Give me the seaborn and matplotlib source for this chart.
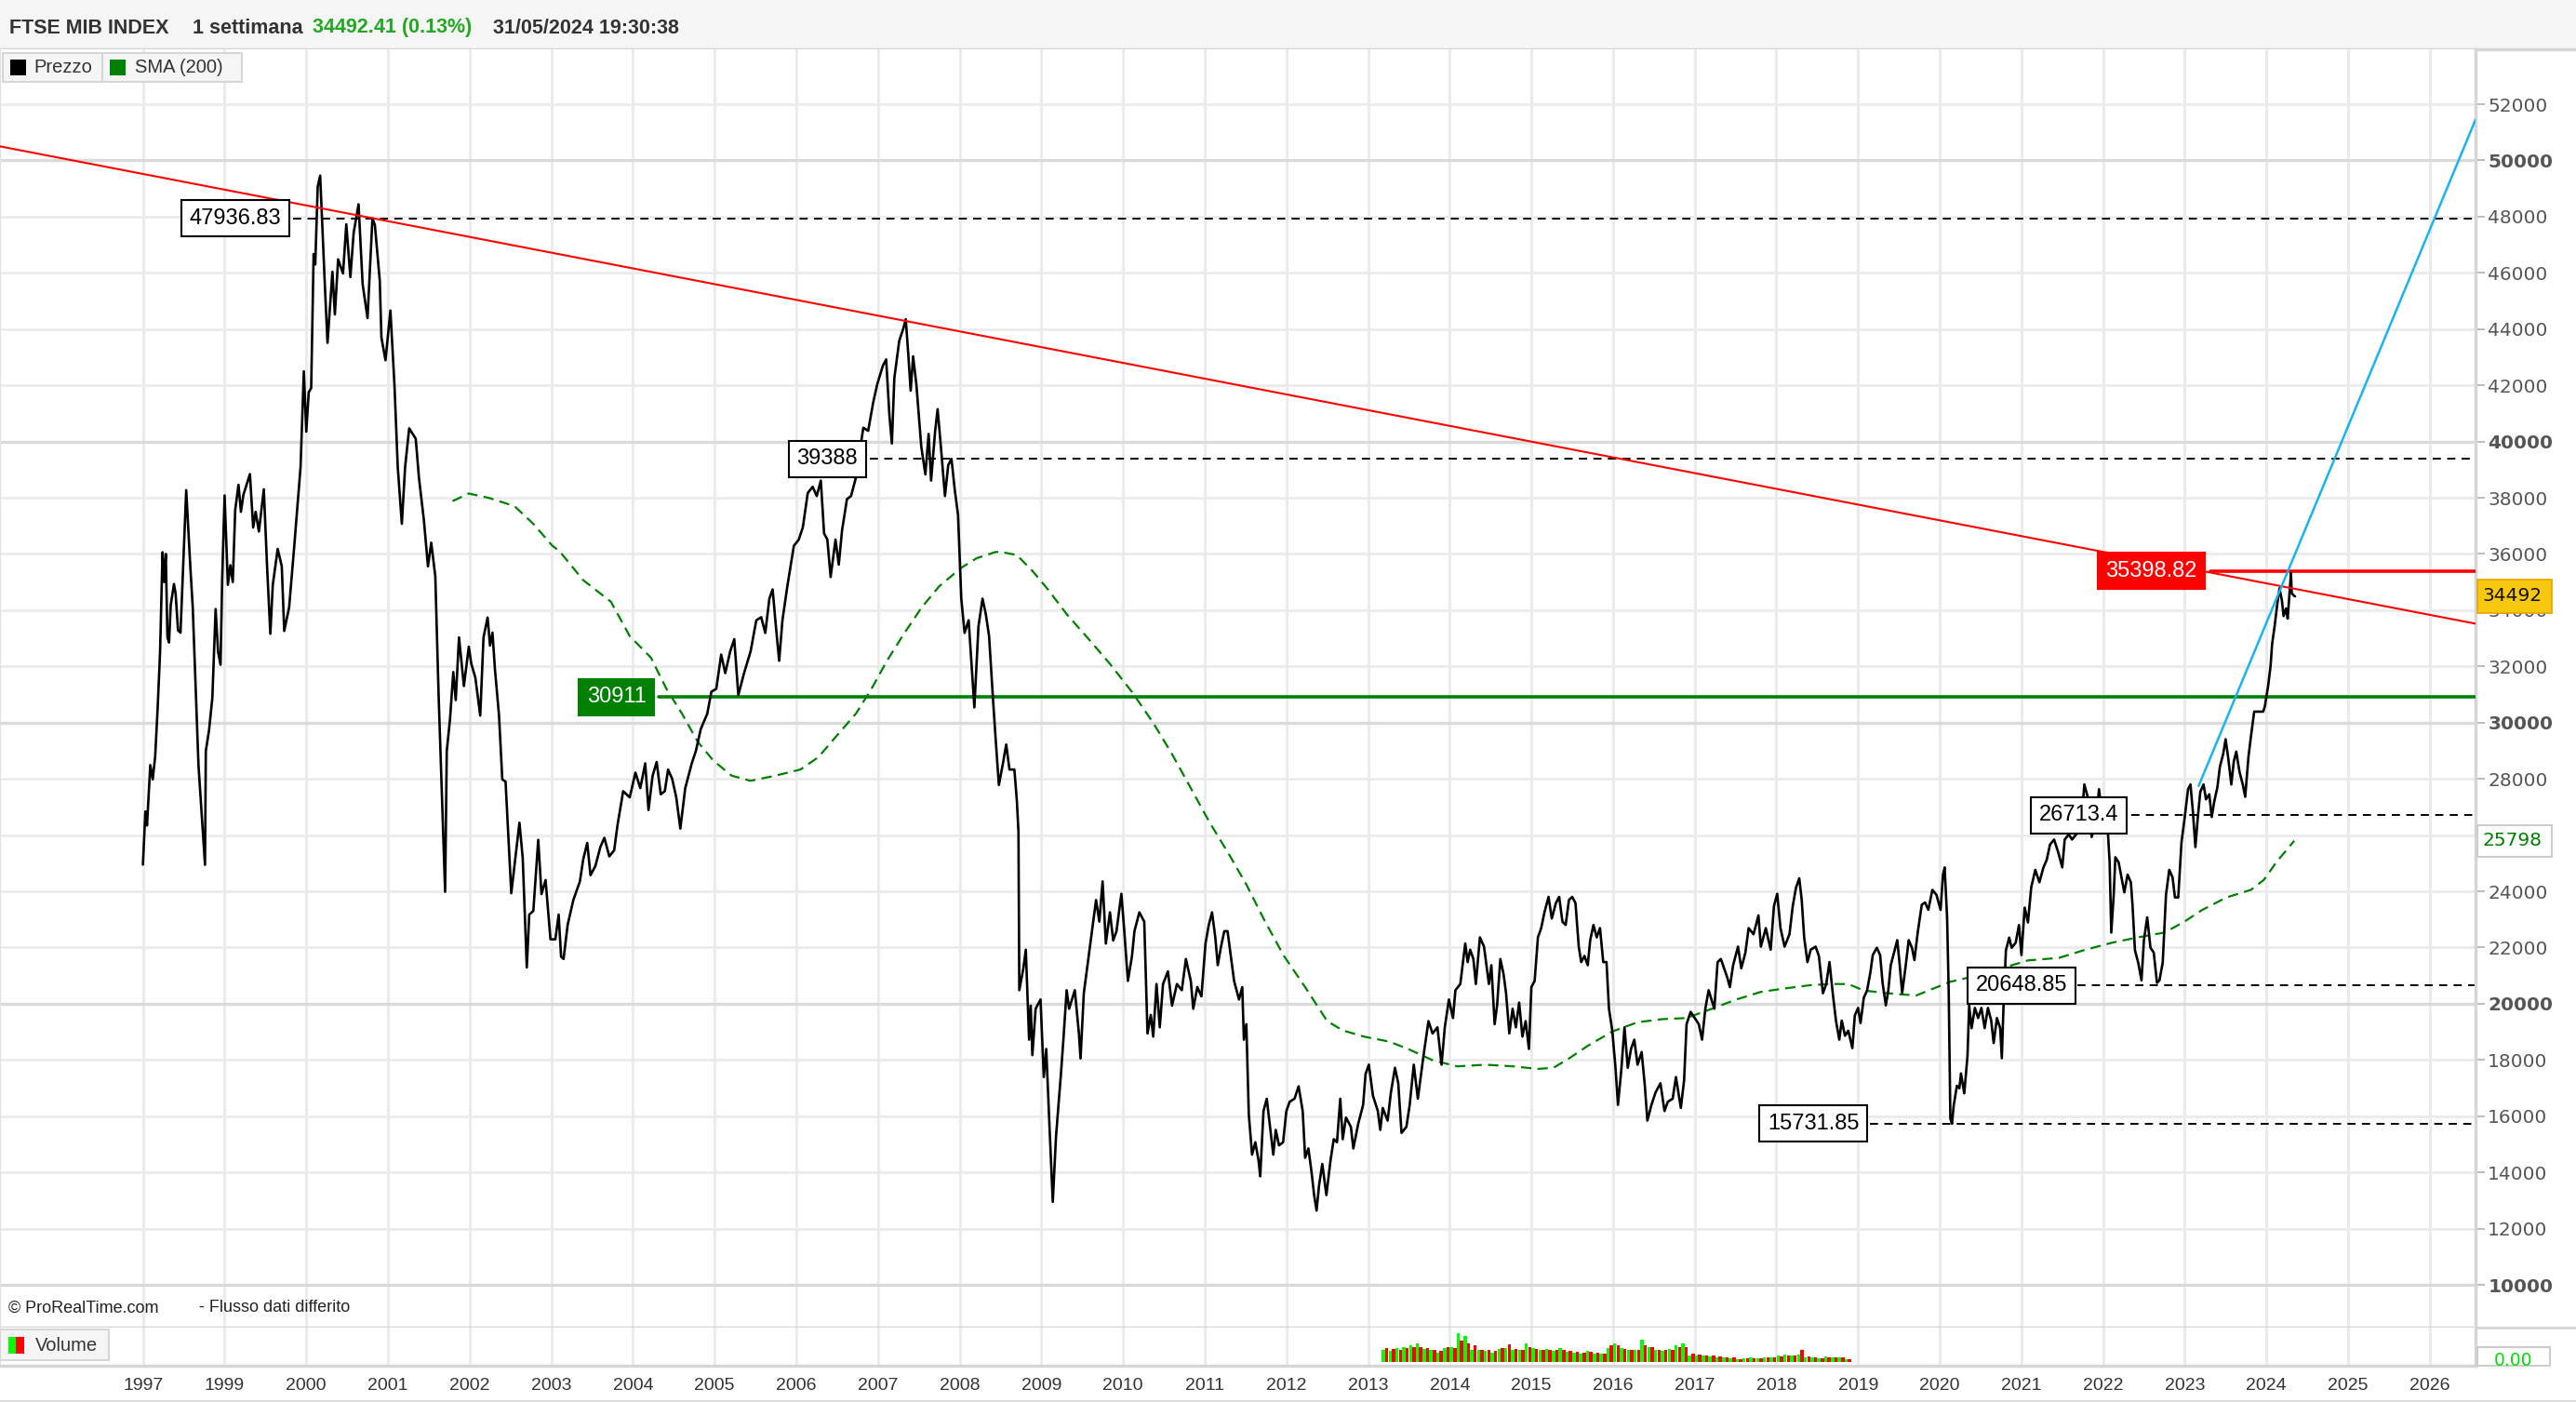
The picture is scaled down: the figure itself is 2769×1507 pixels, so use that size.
import numpy as np
import pandas as pd
import matplotlib
matplotlib.use("Agg")
import matplotlib.pyplot as plt
from matplotlib.patches import Rectangle
from matplotlib.lines import Line2D
import seaborn as sns

# ------------------------------------------------------------------ data
# weekly closes (decimal year, index level)
price_1998_2003 = [
    (1998.00, 24950), (1998.03, 26840), (1998.05, 26340), (1998.09, 28490), (1998.12, 27980),
    (1998.15, 28800), (1998.18, 30500), (1998.21, 32520), (1998.24, 36060), (1998.26, 35000),
    (1998.28, 36000), (1998.30, 33030), (1998.32, 32850), (1998.34, 34170), (1998.38, 34930),
    (1998.40, 34600), (1998.43, 33280), (1998.46, 33200), (1998.53, 38270), (1998.58, 35560),
    (1998.61, 34100), (1998.68, 28490), (1998.76, 24940), (1998.77, 28990), (1998.81, 29740),
    (1998.85, 30880), (1998.89, 34040), (1998.92, 32520), (1998.95, 32060), (1998.97, 35060),
    (1999.00, 38080), (1999.04, 34900), (1999.07, 35600), (1999.10, 35000), (1999.13, 37570),
    (1999.17, 38460), (1999.20, 37500), (1999.23, 38100), (1999.31, 38840), (1999.35, 36940),
    (1999.38, 37500), (1999.42, 36800), (1999.48, 38300), (1999.52, 35560), (1999.56, 33160),
    (1999.59, 34900), (1999.65, 36180), (1999.70, 35560), (1999.73, 33260), (1999.79, 34100),
    (1999.85, 36180), (1999.93, 39090), (1999.97, 42500), (2000.00, 40350), (2000.03, 41750),
    (2000.06, 41900), (2000.09, 46670), (2000.11, 46300), (2000.14, 49070), (2000.17, 49460),
    (2000.23, 45400), (2000.26, 43510), (2000.32, 46040), (2000.35, 44520), (2000.39, 46480),
    (2000.45, 45980), (2000.49, 47730), (2000.54, 45850), (2000.58, 47420), (2000.64, 48440),
    (2000.69, 45600), (2000.75, 44390), (2000.81, 47940), (2000.84, 47700), (2000.90, 45720),
    (2000.92, 43700), (2000.97, 42890), (2001.03, 44660), (2001.08, 42000), (2001.12, 39090),
    (2001.17, 37070), (2001.21, 39090), (2001.26, 40470), (2001.34, 40100), (2001.38, 38700),
    (2001.44, 37200), (2001.49, 35560), (2001.53, 36400), (2001.58, 35200), (2001.62, 31000),
    (2001.70, 23980), (2001.72, 28990), (2001.76, 30120), (2001.80, 31800), (2001.83, 30800),
    (2001.87, 33030), (2001.93, 31300), (2001.99, 32700), (2002.02, 32100), (2002.07, 31600),
    (2002.13, 30250), (2002.17, 33030), (2002.22, 33740), (2002.25, 32740), (2002.28, 33200),
    (2002.31, 31900), (2002.36, 30250), (2002.40, 27980), (2002.44, 27900), (2002.47, 26210),
    (2002.51, 23930), (2002.57, 25450), (2002.61, 26440), (2002.65, 25190), (2002.70, 21290),
    (2002.73, 23170), (2002.78, 23300), (2002.84, 25830), (2002.88, 23900), (2002.93, 24400),
    (2002.99, 22290), (2003.05, 22290), (2003.09, 23170), (2003.12, 21670),
]
price_2003_2008 = [
    (2003.15, 21590), (2003.20, 22800), (2003.27, 23690), (2003.35, 24350), (2003.39, 25120),
    (2003.44, 25720), (2003.48, 24570), (2003.54, 24900), (2003.60, 25570), (2003.65, 25900),
    (2003.71, 25240), (2003.77, 25460), (2003.81, 26340), (2003.88, 27560), (2003.96, 27340),
    (2004.03, 28220), (2004.09, 27670), (2004.15, 28550), (2004.19, 26890), (2004.24, 28100),
    (2004.29, 28600), (2004.34, 27450), (2004.39, 27560), (2004.43, 28330), (2004.48, 28000),
    (2004.53, 27340), (2004.58, 26230), (2004.64, 27670), (2004.72, 28550), (2004.77, 28990),
    (2004.83, 29770), (2004.91, 30320), (2004.96, 31100), (2005.02, 31200), (2005.08, 32420),
    (2005.13, 31760), (2005.19, 32530), (2005.24, 32970), (2005.29, 30980), (2005.36, 31760),
    (2005.44, 32530), (2005.51, 33640), (2005.57, 33750), (2005.62, 33190), (2005.67, 34410),
    (2005.71, 34740), (2005.75, 33420), (2005.79, 32200), (2005.83, 33640), (2005.89, 34850),
    (2005.97, 36290), (2006.03, 36510), (2006.08, 36950), (2006.14, 38170), (2006.20, 38390),
    (2006.25, 38060), (2006.30, 38610), (2006.34, 36730), (2006.38, 36510), (2006.42, 35180),
    (2006.48, 36510), (2006.52, 35620), (2006.56, 36840), (2006.62, 37950), (2006.67, 38060),
    (2006.73, 38720), (2006.82, 40490), (2006.88, 40380), (2006.94, 41370), (2006.99, 42030),
    (2007.06, 42700), (2007.10, 42920), (2007.14, 40930), (2007.17, 39930), (2007.20, 42250),
    (2007.26, 43580), (2007.31, 44020), (2007.34, 44350), (2007.37, 43140), (2007.40, 41810),
    (2007.43, 43030), (2007.47, 42030), (2007.53, 39820), (2007.58, 38830), (2007.62, 40270),
    (2007.65, 38610), (2007.70, 40380), (2007.73, 41150), (2007.77, 39820), (2007.82, 38060),
    (2007.86, 39160), (2007.90, 39380), (2007.94, 38280), (2007.98, 37390), (2008.02, 34410),
    (2008.06, 33190), (2008.11, 33640), (2008.18, 30540), (2008.23, 33420), (2008.28, 34410),
    (2008.32, 33860), (2008.36, 33080), (2008.41, 30760),
]
price_2008_2013 = [
    (2008.44, 29440), (2008.48, 27780), (2008.53, 28550), (2008.57, 29220), (2008.61, 28330),
    (2008.67, 28330), (2008.70, 27230), (2008.72, 26120), (2008.73, 20480), (2008.78, 21260),
    (2008.81, 21920), (2008.85, 18720), (2008.87, 19930), (2008.89, 18170), (2008.93, 19820),
    (2008.99, 20150), (2009.03, 17390), (2009.06, 18390), (2009.10, 15620), (2009.14, 12950),
    (2009.18, 15290), (2009.24, 17500), (2009.27, 18720), (2009.31, 20480), (2009.34, 19820),
    (2009.41, 20480), (2009.46, 18940), (2009.48, 18050), (2009.52, 20370), (2009.58, 21700),
    (2009.62, 22580), (2009.67, 23690), (2009.71, 22920), (2009.75, 24350), (2009.79, 22140),
    (2009.84, 23250), (2009.88, 22250), (2009.92, 22580), (2009.98, 23910), (2010.01, 22800),
    (2010.06, 20810), (2010.11, 21700), (2010.14, 22580), (2010.20, 23250), (2010.26, 22920),
    (2010.30, 18940), (2010.34, 19600), (2010.37, 18830), (2010.41, 20700), (2010.45, 19160),
    (2010.49, 20700), (2010.55, 21150), (2010.60, 19930), (2010.66, 20700), (2010.72, 20480),
    (2010.77, 21590), (2010.83, 20810), (2010.86, 19820), (2010.91, 20590), (2010.96, 20260),
    (2011.01, 22140), (2011.05, 22800), (2011.09, 23250), (2011.13, 22360), (2011.16, 21370),
    (2011.20, 22030), (2011.24, 22580), (2011.28, 22580), (2011.32, 21700), (2011.36, 20810),
    (2011.42, 20150), (2011.46, 20590), (2011.48, 18720), (2011.51, 19270), (2011.54, 16070),
    (2011.58, 14630), (2011.62, 15070), (2011.66, 14410), (2011.68, 13860), (2011.72, 16180),
    (2011.76, 16620), (2011.80, 15620), (2011.84, 14630), (2011.87, 15510), (2011.91, 14960),
    (2011.96, 15070), (2012.00, 16180), (2012.04, 16510), (2012.10, 16620), (2012.15, 17060),
    (2012.20, 16180), (2012.23, 14520), (2012.27, 14850), (2012.31, 13970), (2012.34, 13190),
    (2012.37, 12640), (2012.40, 13530), (2012.44, 14300), (2012.49, 13190), (2012.54, 14410),
    (2012.58, 15180), (2012.62, 15070), (2012.66, 16620), (2012.69, 15180), (2012.73, 15950),
    (2012.79, 15620), (2012.82, 14850), (2012.88, 15730), (2012.94, 16400), (2012.97, 17500),
    (2013.01, 17830), (2013.06, 16730), (2013.12, 16180), (2013.15, 15510), (2013.18, 16290),
    (2013.24, 15840), (2013.28, 16840), (2013.33, 17720), (2013.37, 17170), (2013.41, 15400),
    (2013.47, 15620), (2013.51, 16400),
]
price_2013_2018 = [
    (2013.56, 17830), (2013.61, 16620), (2013.68, 18170), (2013.74, 19380), (2013.79, 18940),
    (2013.85, 19160), (2013.90, 17830), (2013.94, 19160), (2013.99, 20150), (2014.04, 19490),
    (2014.07, 20480), (2014.13, 20700), (2014.19, 22140), (2014.22, 21480), (2014.25, 21920),
    (2014.29, 21590), (2014.32, 20700), (2014.37, 22360), (2014.42, 22030), (2014.45, 21370),
    (2014.48, 20700), (2014.51, 21370), (2014.55, 19270), (2014.58, 19930), (2014.62, 21590),
    (2014.66, 21040), (2014.69, 20370), (2014.73, 18940), (2014.77, 19820), (2014.81, 19160),
    (2014.85, 20040), (2014.89, 18830), (2014.93, 19380), (2014.97, 18390), (2015.00, 20590),
    (2015.04, 20810), (2015.08, 22360), (2015.12, 22690), (2015.16, 23250), (2015.21, 23800),
    (2015.25, 23030), (2015.30, 23580), (2015.34, 23800), (2015.38, 22920), (2015.42, 22800),
    (2015.46, 23690), (2015.50, 23800), (2015.54, 23580), (2015.58, 22030), (2015.61, 21480),
    (2015.65, 21700), (2015.69, 21370), (2015.72, 22250), (2015.76, 22800), (2015.80, 22360),
    (2015.84, 22690), (2015.88, 21480), (2015.92, 21480), (2015.95, 19820), (2015.99, 19050),
    (2016.03, 17720), (2016.06, 16400), (2016.10, 17610), (2016.14, 19160), (2016.18, 17720),
    (2016.22, 18390), (2016.26, 18720), (2016.30, 17830), (2016.35, 18280), (2016.39, 17060),
    (2016.42, 15840), (2016.47, 16400), (2016.52, 16840), (2016.58, 17170), (2016.63, 16180),
    (2016.67, 16510), (2016.73, 16620), (2016.77, 17390), (2016.83, 16290), (2016.87, 17280),
    (2016.90, 19270), (2016.95, 19710), (2017.00, 19490), (2017.05, 19270), (2017.09, 18720),
    (2017.13, 19820), (2017.17, 20480), (2017.24, 19820), (2017.28, 21480), (2017.32, 21590),
    (2017.36, 21260), (2017.40, 20920), (2017.43, 20590), (2017.47, 21370), (2017.53, 22030),
    (2017.57, 21260), (2017.62, 21810), (2017.66, 22690), (2017.72, 22470), (2017.78, 23140),
    (2017.81, 22030), (2017.87, 22690), (2017.93, 21920), (2017.97, 23470), (2018.01, 23910),
    (2018.05, 22690), (2018.10, 22030), (2018.16, 22470), (2018.20, 23470), (2018.24, 24130),
    (2018.28, 24460), (2018.31, 23690), (2018.34, 22360), (2018.38, 21480), (2018.42, 21920),
    (2018.48, 22030), (2018.52, 21700), (2018.57, 20370), (2018.61, 20700), (2018.65, 21480),
    (2018.69, 20370), (2018.73, 19380), (2018.77, 18720),
]
price_2018_2024 = [
    (2018.80, 19400), (2018.84, 18860), (2018.88, 19040), (2018.93, 18420), (2018.96, 19580),
    (2019.00, 19850), (2019.03, 19310), (2019.07, 20210), (2019.11, 20470), (2019.15, 21100),
    (2019.18, 21730), (2019.23, 21990), (2019.27, 21730), (2019.30, 20740), (2019.34, 19940),
    (2019.37, 20470), (2019.40, 21370), (2019.44, 21820), (2019.48, 22260), (2019.51, 21370),
    (2019.54, 20380), (2019.58, 21280), (2019.62, 22260), (2019.66, 21990), (2019.69, 21550),
    (2019.73, 22530), (2019.78, 23520), (2019.82, 23600), (2019.86, 23340), (2019.91, 24050),
    (2019.96, 23870), (2020.01, 23340), (2020.04, 24590), (2020.06, 24850), (2020.09, 23070),
    (2020.11, 20380), (2020.13, 15910), (2020.15, 15730), (2020.17, 16360), (2020.21, 17080),
    (2020.24, 16990), (2020.26, 17520), (2020.30, 16810), (2020.34, 18150), (2020.36, 19940),
    (2020.39, 19130), (2020.43, 19850), (2020.47, 19490), (2020.51, 19850), (2020.55, 19130),
    (2020.59, 19850), (2020.63, 19400), (2020.66, 18600), (2020.70, 19490), (2020.74, 19130),
    (2020.76, 18060), (2020.78, 19850), (2020.81, 21900), (2020.85, 22350), (2020.88, 21990),
    (2020.93, 22170), (2020.97, 22800), (2021.00, 21730), (2021.04, 23420), (2021.08, 22890),
    (2021.12, 24140), (2021.17, 24760), (2021.22, 24320), (2021.27, 24850), (2021.31, 25120),
    (2021.35, 25660), (2021.40, 25840), (2021.45, 25390), (2021.50, 24850), (2021.53, 25840),
    (2021.58, 26020), (2021.62, 25840), (2021.67, 26020), (2021.71, 26640), (2021.75, 27000),
    (2021.77, 27800), (2021.82, 27270), (2021.86, 25930), (2021.91, 26460), (2021.95, 27630),
    (2021.99, 26640), (2022.05, 26550), (2022.08, 25030), (2022.10, 22530), (2022.13, 23870),
    (2022.15, 25210), (2022.19, 25030), (2022.23, 24410), (2022.26, 23960), (2022.30, 24590),
    (2022.34, 24320), (2022.36, 23520), (2022.39, 21900), (2022.43, 21460), (2022.47, 20830),
    (2022.50, 22260), (2022.54, 23070), (2022.58, 21990), (2022.62, 21820), (2022.66, 20740),
    (2022.69, 20830), (2022.73, 21460), (2022.77, 23870), (2022.81, 24760), (2022.85, 24500),
    (2022.88, 23780), (2022.92, 23780), (2022.96, 25750), (2023.00, 26640), (2023.04, 27630),
    (2023.07, 27800), (2023.10, 26820), (2023.13, 25570), (2023.16, 26640), (2023.19, 27540),
    (2023.23, 27800), (2023.26, 27270), (2023.30, 27450), (2023.33, 26640), (2023.36, 27180),
    (2023.40, 27710), (2023.43, 28430), (2023.47, 28880), (2023.50, 29410), (2023.53, 28790),
    (2023.57, 27800), (2023.60, 28610), (2023.63, 28970), (2023.67, 28250), (2023.71, 27800),
    (2023.74, 27360), (2023.78, 28790), (2023.81, 29500), (2023.85, 30390), (2023.91, 30390),
    (2023.96, 30390), (2023.98, 30570), (2024.02, 31290), (2024.05, 32000), (2024.07, 32810),
    (2024.10, 33430), (2024.13, 34150), (2024.16, 34780), (2024.19, 34330), (2024.21, 33790),
    (2024.24, 34060), (2024.26, 33700), (2024.28, 34510), (2024.30, 35310), (2024.31, 34600),
    (2024.34, 34510), (2024.35, 34492),
]
# 200-period simple moving average
sma_200 = [
    (2001.79, 37880), (2001.99, 38150), (2002.24, 37990), (2002.55, 37700), (2002.78, 37070),
    (2003.01, 36300), (2003.10, 36100), (2003.39, 35070), (2003.73, 34300), (2003.96, 33080),
    (2004.22, 32310), (2004.41, 31200), (2004.60, 30320), (2004.79, 29330), (2004.98, 28660),
    (2005.21, 28110), (2005.44, 27930), (2005.74, 28110), (2006.05, 28330), (2006.27, 28770),
    (2006.50, 29550), (2006.73, 30320), (2006.92, 31200), (2007.11, 32200), (2007.30, 33080),
    (2007.53, 34080), (2007.75, 34850), (2008.02, 35510), (2008.21, 35850), (2008.44, 36070),
    (2008.51, 36070), (2008.70, 35960), (2008.89, 35400), (2009.08, 34740), (2009.31, 33860),
    (2009.58, 32970), (2009.84, 32090), (2010.11, 31090), (2010.37, 29990), (2010.60, 28880),
    (2010.83, 27670), (2011.06, 26450), (2011.29, 25350), (2011.51, 24240), (2011.74, 22920),
    (2011.97, 21700), (2012.23, 20590), (2012.50, 19380), (2012.69, 19050), (2012.95, 18830),
    (2013.26, 18650), (2013.49, 18390), (2013.79, 17990), (2014.09, 17770), (2014.44, 17830),
    (2014.78, 17770), (2015.08, 17680), (2015.27, 17720), (2015.46, 18050), (2015.69, 18500),
    (2015.99, 19010), (2016.30, 19340), (2016.60, 19450), (2016.90, 19490), (2017.21, 19820),
    (2017.51, 20150), (2017.81, 20420), (2018.12, 20550), (2018.42, 20660), (2018.65, 20700),
    (2018.88, 20700), (2019.07, 20470), (2019.33, 20380), (2019.71, 20290), (2019.94, 20560),
    (2020.13, 20780), (2020.47, 21010), (2020.78, 21280), (2021.08, 21540), (2021.46, 21630),
    (2021.76, 21900), (2022.11, 22170), (2022.41, 22350), (2022.75, 22530), (2022.98, 22890),
    (2023.21, 23330), (2023.51, 23780), (2023.81, 24050), (2023.97, 24410), (2024.12, 25030),
    (2024.29, 25620), (2024.34, 25798),
]
last_price_tag = "34492"
last_price = 34492.41
last_sma_tag = "25798"
last_sma = 25798

# horizontal levels drawn by the analyst
level_values = [47936.83, 39388, 30911, 35398.82, 26713.4, 20648.85, 15731.85]
level_labels = ["47936.83", "39388", "30911", "35398.82", "26713.4", "20648.85", "15731.85"]
level_kinds = ["dash", "dash", "green", "red", "dash", "dash", "dash"]
level_start = [1999.84, 2006.90, 2004.31, 2023.31, 2022.34, 2021.69, 2019.15]

# trend lines (two anchor points each)
red_trend_t = [1996.25, 2026.56]
red_trend_v = [50500, 33520]
blue_trend_t = [2023.17, 2026.56]
blue_trend_v = [27750, 51450]

# volume (monthly, green = up, red = down), relative units
vol_months = pd.date_range("2013-03-01", periods=69, freq="MS")
vol_green = [40, 35, 45, 50, 55, 62, 42, 38, 30,
             45, 50, 94, 85, 40, 38, 36, 30, 42, 45, 40, 38,
             62, 45, 40, 42, 36, 45, 33, 30, 28, 35, 28, 26,
             45, 62, 45, 40, 38, 72, 48, 40, 36, 42, 55, 62,
             20, 22, 20, 18, 16, 14, 13, 10, 12, 14, 12, 15,
             14, 20, 25, 22, 25, 16, 15, 12, 18, 14, 15, 8]
vol_red = [45, 42, 38, 45, 48, 50, 45, 40, 35,
           48, 45, 70, 60, 55, 40, 38, 35, 45, 58, 42, 40,
           50, 42, 38, 40, 38, 40, 35, 32, 30, 32, 30, 28,
           55, 55, 42, 38, 40, 55, 50, 38, 38, 40, 48, 50,
           28, 25, 22, 20, 18, 15, 14, 10, 12, 13, 12, 14,
           15, 18, 22, 20, 38, 18, 14, 12, 16, 16, 14, 10]

year_ticks = list(range(1998, 2027))
year_labels = ["1997"] + [str(y) for y in range(1999, 2027)]
price_ticks = list(range(10000, 52001, 2000))
hidden_price_labels = [26000]   # covered by the SMA value tag in the reference

header_parts = ["FTSE MIB INDEX", "1 settimana", "34492.41 (0.13%)", "31/05/2024 19:30:38"]

# ------------------------------------------------------------------ style
sns.set_theme(style="white")
plt.rcParams["font.family"] = ["Liberation Sans", "DejaVu Sans"]

W, H = 2769, 1507
fig = plt.figure(figsize=(W / 100, H / 100), dpi=100)
fig.patch.set_facecolor("white")

def fx(x):
    return x / W

def fy(y):
    return 1 - y / H

PLOT_R = 2661
XMIN, XMAX = 1996.25, 2026.56
YMIN, YMAX = 9934, 53953
GRID = "#ebebeb"
SEP = "#d6d6d6"

# header
ax_head = fig.add_axes([0, fy(53), 1, 53 / H])
ax_head.set_facecolor("#f5f5f5")
ax_head.set_xticks([]); ax_head.set_yticks([])
for s in ax_head.spines.values():
    s.set_visible(False)
ax_head.spines["bottom"].set_visible(True)
ax_head.spines["bottom"].set_color(SEP)
ax_head.spines["bottom"].set_linewidth(2.5)
head_x = [10, 207, 336, 530]
head_col = ["#333333", "#333333", "#22a822", "#333333"]
for txt, x, c in zip(header_parts, head_x, head_col):
    fig.text(fx(x), fy(30), txt, ha="left", va="center", fontsize=15.5,
             fontweight="bold", color=c)

# price panel
ax = fig.add_axes([0, fy(1383), PLOT_R / W, (1383 - 53) / H])
ax_foot = fig.add_axes([0, fy(1427), PLOT_R / W, (1427 - 1383) / H])
ax_vol = fig.add_axes([0, fy(1468), PLOT_R / W, (1468 - 1427) / H])

for a in (ax, ax_foot, ax_vol):
    a.set_xlim(XMIN, XMAX)
    a.set_facecolor("white")
    a.set_axisbelow(True)
    a.set_xticks(year_ticks)
    a.grid(axis="x", color=GRID, lw=2.2)
    a.tick_params(axis="x", length=0, labelbottom=False)
    for side, s in a.spines.items():
        s.set_color(SEP)
        s.set_linewidth(2.5)
    a.spines["top"].set_visible(False)
    a.spines["left"].set_color("#e0e0e0")
    a.spines["left"].set_linewidth(1.5)

ax.set_ylim(YMIN, YMAX)
ax.set_yticks(price_ticks)
ax.grid(axis="y", color=GRID, lw=2.0)
for v, gl in zip(price_ticks, ax.get_ygridlines()):
    if v % 10000 == 0:
        gl.set_color("#dadada")
        gl.set_linewidth(2.4)
ax.yaxis.tick_right()
ax.set_yticklabels(["" if v in hidden_price_labels else str(v) for v in price_ticks])
ax.tick_params(axis="y", right=True, length=7, width=1.2, color="#b0b0b0",
               pad=2.5, labelsize=14.5, labelcolor="#555555")
for v, lab in zip(price_ticks, ax.get_yticklabels()):
    lab.set_fontfamily(["DejaVu Sans"])
    lab.set_fontsize(14.5)
    if v % 10000 == 0:
        lab.set_fontweight("bold")

# series
price_df = pd.DataFrame(price_1998_2003 + price_2003_2008 + price_2008_2013
                        + price_2013_2018 + price_2018_2024, columns=["t", "v"])
sma_df = pd.DataFrame(sma_200, columns=["t", "v"])

sns.lineplot(data=sma_df, x="t", y="v", ax=ax, color="#008000", lw=1.6,
             linestyle=(0, (5, 3)), sort=False, estimator=None, zorder=3)
sns.lineplot(data=price_df, x="t", y="v", ax=ax, color="black", lw=1.9,
             sort=False, estimator=None, zorder=4)
ax.set_xlabel(""); ax.set_ylabel("")

# horizontal levels
for val, kind, t0 in zip(level_values, level_kinds, level_start):
    if kind == "dash":
        ax.plot([t0, XMAX], [val, val], color="black", lw=1.4,
                linestyle=(0, (4.5, 3.5)), zorder=2.5)
    elif kind == "green":
        ax.plot([t0, XMAX], [val, val], color="#008000", lw=2.6, zorder=2.6)
    else:
        ax.plot([t0, XMAX], [val, val], color="#ff0000", lw=2.6, zorder=2.6)

# trend lines
ax.plot(red_trend_t, red_trend_v, color="#ff0000", lw=1.5, zorder=5)
ax.plot(blue_trend_t, blue_trend_v, color="#17b4f2", lw=1.8, zorder=5)

# level labels (box centres placed to the left of where each line starts)
label_centre = [1999.13, 2006.38, 2003.80, 2022.59, 2021.70, 2021.00, 2018.45]
for val, lab, kind, tc in zip(level_values, level_labels, level_kinds, label_centre):
    if kind == "dash":
        fc, ec, tc_col = "white", "black", "black"
    elif kind == "green":
        fc, ec, tc_col = "#008000", "#008000", "white"
    else:
        fc, ec, tc_col = "#ff0000", "#ff0000", "white"
    ax.text(tc, val, lab, ha="center", va="center", fontsize=17, color=tc_col,
            zorder=6, bbox=dict(boxstyle="square,pad=0.36", fc=fc, ec=ec, lw=1.5))

# right-hand value tags
axr = fig.add_axes([PLOT_R / W, fy(1383), (W - PLOT_R) / W, (1383 - 53) / H])
axr.set_xlim(0, W - PLOT_R)
axr.set_ylim(YMIN, YMAX)
axr.set_axis_off()
upp = (YMAX - YMIN) / (1383 - 53)  # data units per pixel
axr.add_patch(Rectangle((1.5, last_price - 18 * upp), 80, 36 * upp,
                        fc="#f7c80f", ec="#e6a500", lw=1.2, zorder=5))
axr.text(40, last_price, last_price_tag, ha="center", va="center", fontsize=14.5,
         color="#111111", family=["DejaVu Sans"], zorder=6)
axr.add_patch(Rectangle((1.5, last_sma - 17 * upp), 80, 34 * upp,
                        fc="white", ec="#cccccc", lw=1.5, zorder=5))
axr.text(40, last_sma, last_sma_tag, ha="center", va="center", fontsize=14.5,
         color="#008000", family=["DejaVu Sans"], zorder=6)

# footer strip
ax_foot.set_yticks([])
ax_foot.set_ylim(0, 1)
fig.text(fx(9), fy(1406), "\u00a9 ProRealTime.com", ha="left", va="center",
         fontsize=13, color="#222222")
fig.text(fx(214), fy(1406), "- Flusso dati differito", ha="left", va="center",
         fontsize=13, color="#222222")

# volume
vt = vol_months.year + (vol_months.month - 1) / 12 + 1 / 24
bw = 1 / 24
ax_vol.bar(vt - bw / 2, vol_green, width=bw * 0.95, color="#00ff00", lw=0, zorder=3)
ax_vol.bar(vt + bw / 2, vol_red, width=bw * 0.95, color="#ff0000", lw=0, zorder=3)
ax_vol.set_ylim(-12, 112)
ax_vol.set_yticks([])
ax_vol.set_xticks(year_ticks)
ax_vol.set_xticklabels(year_labels)
ax_vol.tick_params(axis="x", labelbottom=True, length=0, pad=9, labelsize=14,
                   labelcolor="#333333")

# legends (top-left and volume)
def legend_box(x0, x1, y0, y1):
    fig.add_artist(Rectangle((fx(x0), fy(y1)), (x1 - x0) / W, (y1 - y0) / H,
                             transform=fig.transFigure, fc="#f5f5f5", ec="#d6d6d6", lw=1.5))

legend_box(3, 110, 57, 88)
legend_box(110, 260, 57, 88)
fig.add_artist(Rectangle((fx(11), fy(81)), 17 / W, 17 / H, transform=fig.transFigure,
                         fc="black", ec="none"))
fig.text(fx(36), fy(73), "Prezzo", ha="left", va="center", fontsize=14.5, color="#333333")
fig.add_artist(Rectangle((fx(118), fy(81)), 17 / W, 17 / H, transform=fig.transFigure,
                         fc="#008000", ec="none"))
fig.text(fx(145), fy(73), "SMA (200)", ha="left", va="center", fontsize=14.5, color="#333333")

legend_box(0, 117, 1429, 1462)
fig.add_artist(Rectangle((fx(9), fy(1455)), 8 / W, 18 / H, transform=fig.transFigure,
                         fc="#00ff00", ec="none"))
fig.add_artist(Rectangle((fx(17), fy(1455)), 9 / W, 18 / H, transform=fig.transFigure,
                         fc="#ff0000", ec="none"))
fig.text(fx(38), fy(1446), "Volume", ha="left", va="center", fontsize=14.5, color="#333333")

# volume value tag
fig.add_artist(Rectangle((fx(PLOT_R + 2), fy(1468)), 78 / W, 20 / H, transform=fig.transFigure,
                         fc="white", ec="#cccccc", lw=1.5))
fig.text(fx(PLOT_R + 41), fy(1462), "0.00", ha="center", va="center", fontsize=13.5,
         color="#00dd00", family=["DejaVu Sans"])

# separators
fig.add_artist(Line2D([fx(PLOT_R), 1], [fy(1427), fy(1427)], transform=fig.transFigure,
                      color=SEP, lw=2))
fig.add_artist(Line2D([0, 1], [fy(1505.5), fy(1505.5)], transform=fig.transFigure,
                      color="#dddddd", lw=1.5))

fig.savefig("out.png", dpi=100, facecolor="white")
